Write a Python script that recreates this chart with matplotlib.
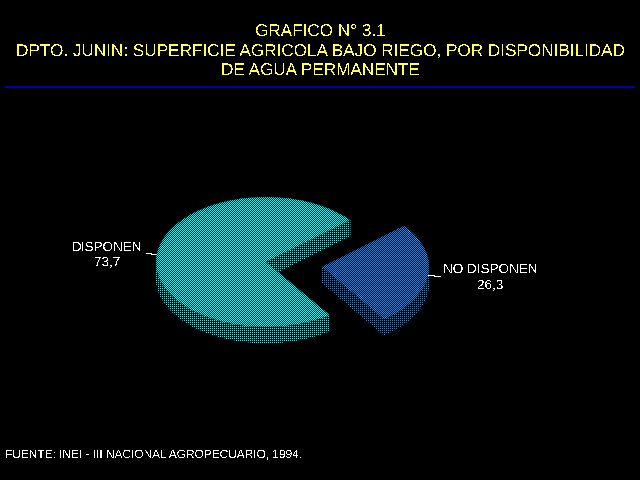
import numpy as np
import matplotlib
matplotlib.use('Agg')
import matplotlib.pyplot as plt
from matplotlib.path import Path
from matplotlib.patches import PathPatch

title_lines = ['GRAFICO N° 3.1',
               'DPTO. JUNIN: SUPERFICIE AGRICOLA BAJO RIEGO, POR DISPONIBILIDAD',
               'DE AGUA PERMANENTE']
source = 'FUENTE: INEI - III NACIONAL AGROPECUARIO, 1994.'
categories = ['DISPONEN', 'NO DISPONEN']
values = [73.7, 26.3]
value_labels = ['73,7', '26,3']
colors = ['#00ffff', '#2080ff']

plt.rcParams['font.family'] = ['Liberation Sans', 'DejaVu Sans']
plt.rcParams['text.hinting'] = 'none'

fig = plt.figure(figsize=(6.4, 4.8), dpi=100, facecolor='black')
ax = fig.add_axes([0, 0, 1, 1])
ax.set_xlim(0, 640)
ax.set_ylim(480, 0)
ax.axis('off')

# pixel textures for the pie faces
yy, xx = np.mgrid[0:480, 0:640]
checker = (xx + yy) % 2 == 0
dots = (xx % 2 == 0) & (yy % 2 == 0)


def texture(color, mask):
    rgba = np.zeros((480, 640, 4))
    rgba[..., :3] = matplotlib.colors.to_rgb(color)
    rgba[..., 3] = mask
    return rgba


def wedge_points(cx, cy, rx, ry, a0, a1):
    t = np.radians(np.linspace(a0, a1, 120))
    x = cx + rx * np.cos(t)
    y = cy - ry * np.sin(t)
    return np.column_stack([np.r_[cx, x, cx], np.r_[cy, y, cy]])


def side_path(pts, depth):
    verts = []
    codes = []
    shapes = [pts, pts + [0, depth]]
    for p, q in zip(pts[:-1], pts[1:]):
        shapes.append(np.array([p, q, q + [0, depth], p + [0, depth], p]))
    for s in shapes:
        x, y = s[:, 0], s[:, 1]
        area = np.sum(x[:-1] * y[1:] - x[1:] * y[:-1])
        if area < 0:
            s = s[::-1]
        verts.extend(s)
        codes.extend([Path.MOVETO] + [Path.LINETO] * (len(s) - 2) + [Path.CLOSEPOLY])
    return Path(np.array(verts), codes)


start = 40
sweeps = [v / sum(values) * 360 for v in values]
slices = [((266, 262, 110, 65), start, start + sweeps[0]),
          ((322, 267, 107, 64), start + sweeps[0], start + 360)]

for (shape, a0, a1), color in zip(slices, colors):
    pts = wedge_points(*shape, a0, a1)
    side = PathPatch(side_path(pts, 16), fc='none', ec='none')
    ax.add_patch(side)
    ax.add_patch(PathPatch(Path(pts), fc='black', ec='none', zorder=3))
    im = ax.imshow(texture(color, dots), extent=(0, 640, 480, 0), interpolation='nearest', zorder=2, aspect='auto')
    im.set_clip_path(side)
    top_clip = PathPatch(Path(pts), fc='none', ec='none')
    ax.add_patch(top_clip)
    im = ax.imshow(texture(color, checker), extent=(0, 640, 480, 0), interpolation='nearest', zorder=4, aspect='auto')
    im.set_clip_path(top_clip)

ax.set_xlim(0, 640)
ax.set_ylim(480, 0)

# title
for line, y in zip(title_lines, [37, 57, 76]):
    ax.text(320, y, line, color='#ffff55', fontsize=12.3, ha='center', va='baseline', antialiased=False)
ax.plot([5, 635], [86.5, 86.5], color='#0000b0', lw=1.4, solid_capstyle='butt')

# labels with leader lines, each made of two short 1px steps
for xs, y in [([146, 151], 252.5), ([151, 157], 253.5), ([428, 434], 274.5), ([434, 440], 275.5)]:
    ax.plot(xs, [y, y], color='white', lw=0.72, antialiased=False, solid_capstyle='butt')
ax.text(107, 251, categories[0], color='white', fontsize=9.7, ha='center', va='baseline', antialiased=False)
ax.text(107, 265, value_labels[0], color='white', fontsize=9.7, ha='center', va='baseline', antialiased=False)
ax.text(490, 273, categories[1], color='white', fontsize=9.7, ha='center', va='baseline', antialiased=False)
ax.text(490, 288, value_labels[1], color='white', fontsize=9.7, ha='center', va='baseline', antialiased=False)

ax.text(5, 457, source, color='white', fontsize=8.6, ha='left', va='baseline', antialiased=False)

fig.savefig('out.png', dpi=100, facecolor='black')
